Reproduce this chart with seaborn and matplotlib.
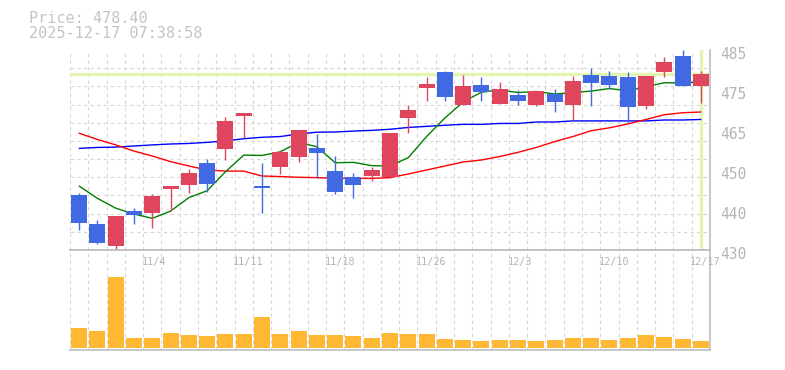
import matplotlib
matplotlib.use("Agg")
import matplotlib.pyplot as plt
import seaborn as sns
import numpy as np
import pandas as pd
from matplotlib.transforms import ScaledTranslation, blended_transform_factory

# ---------------- data ----------------
last_price = 478.40
timestamp = "2025-12-17 07:38:58"

opens = [445.1, 437.15, 431.1, 440.7, 440.3, 446.85, 447.95, 453.9, 457.85, 466.9,
         447.7, 452.9, 455.65, 458.05, 451.7, 450.1, 450.4, 450.2, 466.4, 474.6,
         478.95, 469.9, 475.4, 470.15, 472.5, 469.9, 472.9, 469.9, 478.1, 477.85,
         477.6, 469.6, 478.95, 483.35, 475.1]
closes = [437.5, 432.0, 439.35, 439.7, 444.85, 447.7, 451.2, 448.2, 465.5, 467.7,
          447.1, 456.95, 463.0, 456.75, 446.0, 447.95, 452.0, 462.2, 468.5, 475.65,
          472.2, 475.1, 473.5, 474.3, 471.0, 473.7, 470.7, 476.5, 475.9, 475.4,
          469.3, 477.85, 481.7, 475.1, 478.4]
highs = [445.7, 438.25, 439.35, 441.55, 445.4, 447.7, 452.2, 455.0, 466.6, 467.7,
         453.9, 457.5, 463.0, 461.9, 455.85, 451.2, 452.9, 462.2, 469.9, 477.6,
         479.2, 478.2, 477.6, 476.2, 474.0, 473.7, 474.3, 477.85, 480.05, 479.2,
         478.95, 477.85, 483.1, 485.0, 479.2]
lows = [435.5, 431.7, 430.0, 437.2, 436.1, 440.8, 445.75, 446.0, 454.8, 460.7,
        440.3, 450.9, 454.3, 449.8, 445.5, 444.4, 449.1, 449.9, 462.25, 471.0,
        471.0, 469.9, 471.0, 470.15, 469.9, 469.6, 467.95, 465.75, 469.6, 474.3,
        464.9, 468.8, 477.6, 475.1, 470.4]
volumes = [20000, 17000, 71000, 10000, 10000, 15000, 13000, 12000, 14000, 14000,
           31000, 14000, 17000, 13000, 13000, 12000, 10000, 15000, 14000, 14000,
           9000, 8000, 7000, 8000, 8000, 7000, 8000, 10000, 10000, 8000,
           10000, 13000, 11000, 9000, 7000]
ma5 = [447.6, 444.2, 441.5, 439.9, 438.7, 440.7, 444.4, 446.3, 451.5, 456.1,
       456.0, 457.0, 459.6, 458.4, 454.0, 454.1, 453.2, 453.1, 455.4, 461.2,
       466.3, 470.7, 473.4, 474.0, 473.3, 473.6, 472.9, 473.3, 473.7, 474.4,
       473.8, 474.9, 476.0, 475.9, 476.3]
ma25 = [462.1, 460.4, 458.9, 457.2, 455.85, 454.3, 453.1, 452.0, 451.7, 451.7,
        450.35, 450.2, 450.0, 449.9, 449.7, 449.7, 449.7, 449.9, 450.9, 452.0,
        453.1, 454.2, 454.75, 455.7, 456.85, 458.2, 459.8, 461.2, 462.8, 463.6,
        464.65, 465.9, 467.2, 467.75, 467.95]
ma75 = [457.95, 458.2, 458.3, 458.6, 458.9, 459.15, 459.3, 459.6, 460.0, 460.6,
        461.0, 461.2, 461.9, 462.4, 462.45, 462.7, 462.9, 463.2, 463.7, 464.0,
        464.3, 464.55, 464.55, 464.8, 464.8, 465.2, 465.2, 465.5, 465.5, 465.5,
        465.5, 465.5, 465.75, 465.75, 465.9]
date_labels = ["11/4", "11/11", "11/18", "11/26", "12/3", "12/10", "12/17"]
date_label_pos = [4, 9, 14, 19, 24, 29, 34]
ytick_values = [430, 441, 452, 463, 474, 485]
ytick_labels = ["430", "440", "450", "465", "475", "485"]

# ---------------- style ----------------
sns.set_theme(style="white")
plt.rcParams["font.family"] = ["DejaVu Sans Mono", "DejaVu Sans"]

UP = "#e0455e"
DOWN = "#4169e1"
VOL = "#ffb833"
LIME = "#e4f5b2"
GRID = "#d6d6d6"
AXC = "#bdbdbd"
TXT = "#b4b4b4"

df = pd.DataFrame({"i": np.arange(len(closes)), "open": opens, "close": closes,
                   "high": highs, "low": lows, "volume": volumes,
                   "ma5": ma5, "ma25": ma25, "ma75": ma75})

W, H = 785, 370
fig = plt.figure(figsize=(W / 100, H / 100), dpi=100)
ax = fig.add_axes([70 / W, 120 / H, 640 / W, 200 / H])
axv = fig.add_axes([70 / W, 20 / H, 640 / W, 100 / H])

n = len(df)
# ---------------- price panel ----------------
ax.axhline(last_price, color=LIME, lw=2.4, zorder=1)
ax.axvline(df["i"].iloc[-1], color=LIME, lw=2.4, zorder=1)

sns.lineplot(data=df, x="i", y="ma75", ax=ax, color="#0000ff", lw=1.0, zorder=2, legend=False)
sns.lineplot(data=df, x="i", y="ma25", ax=ax, color="#ff0000", lw=1.0, zorder=2, legend=False)
sns.lineplot(data=df, x="i", y="ma5", ax=ax, color="#008000", lw=1.0, zorder=2, legend=False)

cols = [UP if c >= o else DOWN for o, c in zip(df["open"], df["close"])]
ax.vlines(df["i"], df["low"], df["high"], colors=cols, lw=1.0, zorder=3)
body = np.maximum((df["close"] - df["open"]).abs(), 0.3)
ax.bar(df["i"], body, bottom=np.minimum(df["open"], df["close"]), width=0.875,
       color=cols, zorder=4, linewidth=0)

ax.set_xlim(-0.5, n - 0.5)
ax.set_ylim(430, 485)
ax.set_xlabel("")
ax.set_ylabel("")
ax.set_xticks([])
ax.set_xticks(np.arange(-0.5, n, 1), minor=True)
ax.set_yticks(ytick_values)
ax.set_yticklabels(ytick_labels)
ax.set_yticks(np.arange(430, 486, 5), minor=True)
ax.yaxis.tick_right()
ax.tick_params(axis="both", which="both", length=0)
ax.tick_params(axis="y", which="major", pad=7.2, labelsize=10.5, labelcolor=TXT)
ax.grid(False, which="major")
ax.grid(True, which="minor", color=GRID, linestyle=(0, (3, 3)), linewidth=0.8)
for lab in ax.get_yticklabels():
    lab.set_transform(lab.get_transform() + ScaledTranslation(0, -3 / 100, fig.dpi_scale_trans))
for side in ["top", "left"]:
    ax.spines[side].set_visible(False)
for side in ["right", "bottom"]:
    ax.spines[side].set_color(AXC)
    ax.spines[side].set_linewidth(1.2)

# ---------------- volume panel ----------------
sns.barplot(data=df, x="i", y="volume", ax=axv, color=VOL, saturation=1,
            width=0.875, native_scale=True, errorbar=None, linewidth=0, zorder=3)
axv.set_xlim(-0.5, n - 0.5)
axv.set_ylim(-2000, 98000)
axv.set_xlabel("")
axv.set_ylabel("")
axv.set_xticks([])
axv.set_yticks([])
axv.set_xticks(np.arange(-0.5, n, 1), minor=True)
axv.tick_params(axis="both", which="both", length=0)
axv.grid(False, which="major")
axv.grid(True, which="minor", axis="x", color=GRID, linestyle=(0, (3, 3)), linewidth=0.8)
axv.spines["left"].set_visible(False)
for side in ["right", "bottom", "top"]:
    axv.spines[side].set_color(AXC)
    axv.spines[side].set_linewidth(1.2)

tr = blended_transform_factory(axv.transData, axv.transAxes)
for pos, lab in zip(date_label_pos, date_labels):
    axv.text(pos - 0.58, 0.88, lab, transform=tr, ha="left", va="center",
             fontsize=7.3, color=TXT, zorder=5)

# ---------------- header text ----------------
fig.text(29 / W, 1 - 23 / H, f"Price: {last_price:.2f}", fontsize=11, color="#c4c4c4", va="baseline")
fig.text(29 / W, 1 - 38 / H, timestamp, fontsize=11, color="#c4c4c4", va="baseline")

fig.savefig("out.png", dpi=100, facecolor="white")
